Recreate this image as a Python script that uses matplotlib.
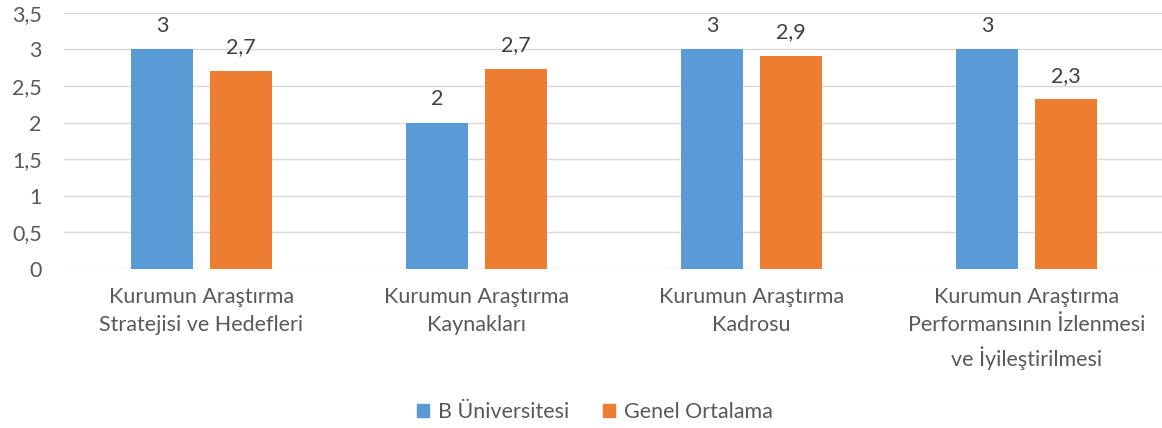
import matplotlib.pyplot as plt
from matplotlib.patches import Patch
import numpy as np

categories = ['Kurumun Araştırma\nStratejisi ve Hedefleri',
              'Kurumun Araştırma\nKaynakları',
              'Kurumun Araştırma\nKadrosu',
              'Kurumun Araştırma\nPerformansının İzlenmesi\nve İyileştirilmesi']
b_uni = [3, 2, 3, 3]
genel = [2.71, 2.735, 2.91, 2.32]
series_names = ['B Üniversitesi', 'Genel Ortalama']
yticks = [0, 0.5, 1, 1.5, 2, 2.5, 3, 3.5]

blue = '#5B9BD5'
orange = '#ED7D31'
txt = '#595959'
fs = 15.5

plt.rcParams['font.family'] = ['Lato', 'DejaVu Sans']

fig = plt.figure(figsize=(11.62, 4.28), dpi=100)
ax = fig.add_axes([64/1162, 159/428, 1100/1162, 256.3/428])

x = np.arange(len(categories))
w = 0.222
off = 0.1436
bars1 = ax.bar(x - off, b_uni, w, color=blue, zorder=3)
bars2 = ax.bar(x + off, genel, w, color=orange, zorder=3)

def lbl(v):
    s = f'{v:.1f}'.replace('.', ',')
    return s[:-2] if s.endswith(',0') else s

for bars, vals in [(bars1, b_uni), (bars2, genel)]:
    for b, v in zip(bars, vals):
        ax.annotate(lbl(v), (b.get_x() + b.get_width()/2, v), xytext=(0, 12.5),
                    textcoords='offset points', ha='center', va='baseline',
                    fontsize=fs, color='#404040')

ax.set_xlim(-0.5, len(categories) - 0.5)
ax.set_ylim(0, 3.5)
ax.set_yticks(yticks)
ax.set_yticklabels([lbl(t) for t in yticks], fontsize=fs, color=txt)
ax.set_xticks(x)
ax.set_xticklabels(categories, fontsize=fs, color=txt, linespacing=1.52)
ax.tick_params(axis='both', length=0)
ax.tick_params(axis='y', pad=16)
ax.tick_params(axis='x', pad=13)
ax.grid(axis='y', color='#D9D9D9', linewidth=1.0, zorder=0)
for s in ax.spines.values():
    s.set_visible(False)

handles = [Patch(color=blue), Patch(color=orange)]
fig.legend(handles, series_names, loc='center', bbox_to_anchor=(0.512, 1 - 412/428),
           ncol=2, frameon=False, fontsize=fs, handlelength=0.55, handleheight=0.55,
           handletextpad=0.4, columnspacing=1.6, labelcolor=txt)

fig.savefig('out.png', dpi=100)
